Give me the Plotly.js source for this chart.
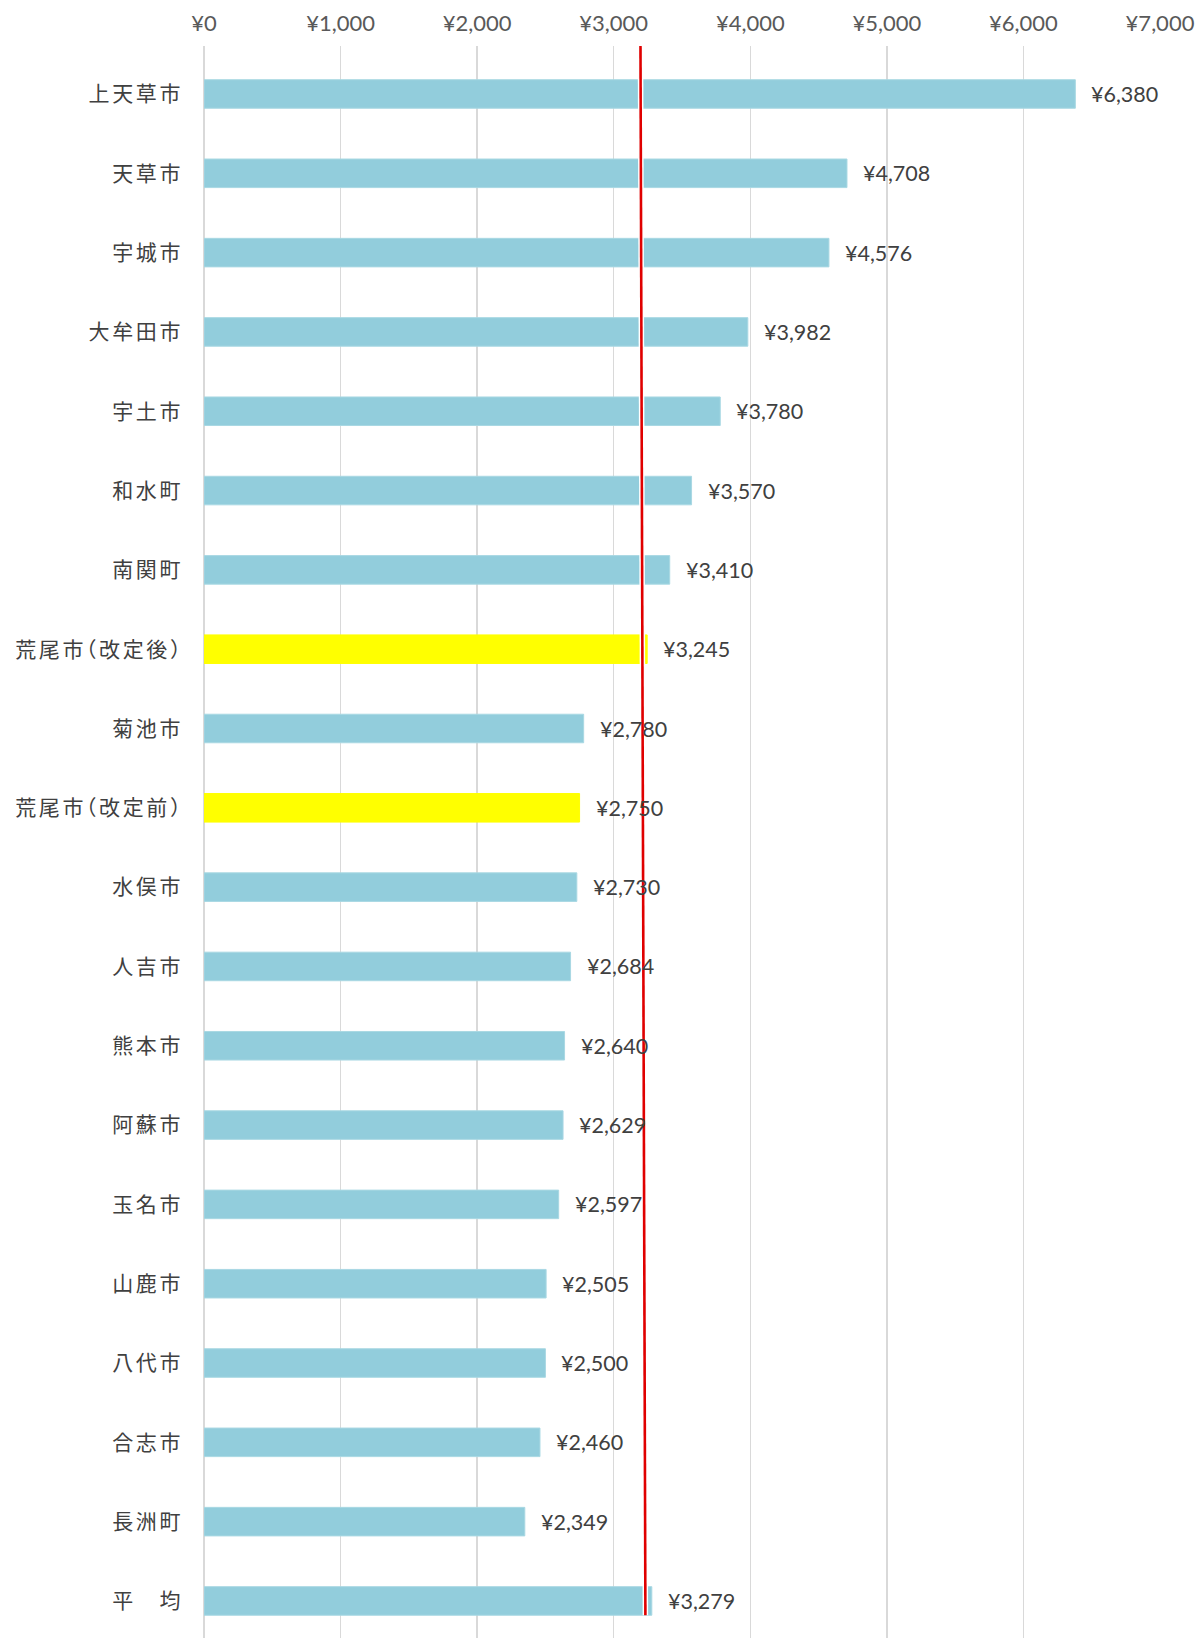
<!DOCTYPE html>
<html>
<head>
<meta charset="utf-8">
<script src="https://cdn.plot.ly/plotly-3.0.1.min.js"></script>
<style>
html,body{margin:0;padding:0;background:#fff;}
#chart{width:1197px;height:1638px;}
.yaxislayer-above .ytick text{letter-spacing:2.6px;font-feature-settings:"halt";}
</style>
</head>
<body>
<div id="chart"></div>
<script>
// ---- data ----
const categories = ["上天草市","天草市","宇城市","大牟田市","宇土市","和水町","南関町","荒尾市（改定後）","菊池市","荒尾市（改定前）","水俣市","人吉市","熊本市","阿蘇市","玉名市","山鹿市","八代市","合志市","長洲町","平　均"];
const values = [6380,4708,4576,3982,3780,3570,3410,3245,2780,2750,2730,2684,2640,2629,2597,2505,2500,2460,2349,3279];
const highlighted = ["荒尾市（改定後）","荒尾市（改定前）"];
const refLine = [3196, 3232];   // red reference line (top, bottom)
const xTickVals = [0,1000,2000,3000,4000,5000,6000,7000];

// ---- style ----
const blue = "#92CDDC";
const yellow = "#FFFF00";
const colors = categories.map(c => highlighted.includes(c) ? yellow : blue);
const yIdx = categories.map((c,i)=>i);
const yRange = [19.467, -0.605];

const fmt = v => "¥" + v.toLocaleString("en-US");

const barTrace = {
  type: "bar",
  orientation: "h",
  x: values,
  y: yIdx,
  width: 0.36,
  marker: {color: colors, line: {color: colors.map(c => c===blue ? "#a9d8e3" : yellow), width: 1}},
  hoverinfo: "skip"
};

const lineUnder = {
  type: "scatter", mode: "lines",
  x: refLine, y: [yRange[1], 19.18],
  yaxis: "y2",
  line: {color: "#ffffff", width: 5.5},
  hoverinfo: "skip", showlegend: false
};
const lineTrace = {
  type: "scatter", mode: "lines",
  x: refLine, y: [yRange[1], 19.18],
  yaxis: "y2",
  line: {color: "#E00000", width: 2.6},
  hoverinfo: "skip", showlegend: false
};

const annotations = values.map((v,i)=>({
  x: v, y: i, xref: "x", yref: "y",
  text: fmt(v),
  showarrow: false,
  xanchor: "left", yanchor: "middle",
  xshift: 14,
  font: {family: "Lato, 'Open Sans', sans-serif", size: 21.5, color: "#404040"}
}));

const layout = {
  width: 1197, height: 1638,
  margin: {l: 204, r: 37, t: 46, b: 0},
  paper_bgcolor: "#fff", plot_bgcolor: "#fff",
  showlegend: false,
  bargap: 0,
  xaxis: {
    side: "top",
    range: [0, 7000],
    tickvals: xTickVals,
    ticktext: xTickVals.map(fmt),
    showgrid: true, gridcolor: "#d9d9d9", gridwidth: 1.5,
    zeroline: true, zerolinecolor: "#d9d9d9", zerolinewidth: 1.5,
    showline: false, ticks: "",
    ticklabelstandoff: 10,
    tickfont: {family: "Lato, 'Open Sans', sans-serif", size: 22, color: "#595959"},
    fixedrange: true
  },
  yaxis: {
    range: yRange,
    tickvals: yIdx,
    ticktext: categories,
    showgrid: false, zeroline: false, showline: false, ticks: "",
    ticklabelstandoff: 20,
    tickfont: {family: "'Noto Sans CJK JP', sans-serif", size: 21, color: "#404040"},
    fixedrange: true
  },
  yaxis2: {
    overlaying: "y",
    range: yRange,
    visible: false,
    fixedrange: true
  },
  annotations: annotations
};

Plotly.newPlot("chart", [barTrace, lineUnder, lineTrace], layout, {displayModeBar: false, staticPlot: true});
</script>
</body>
</html>
